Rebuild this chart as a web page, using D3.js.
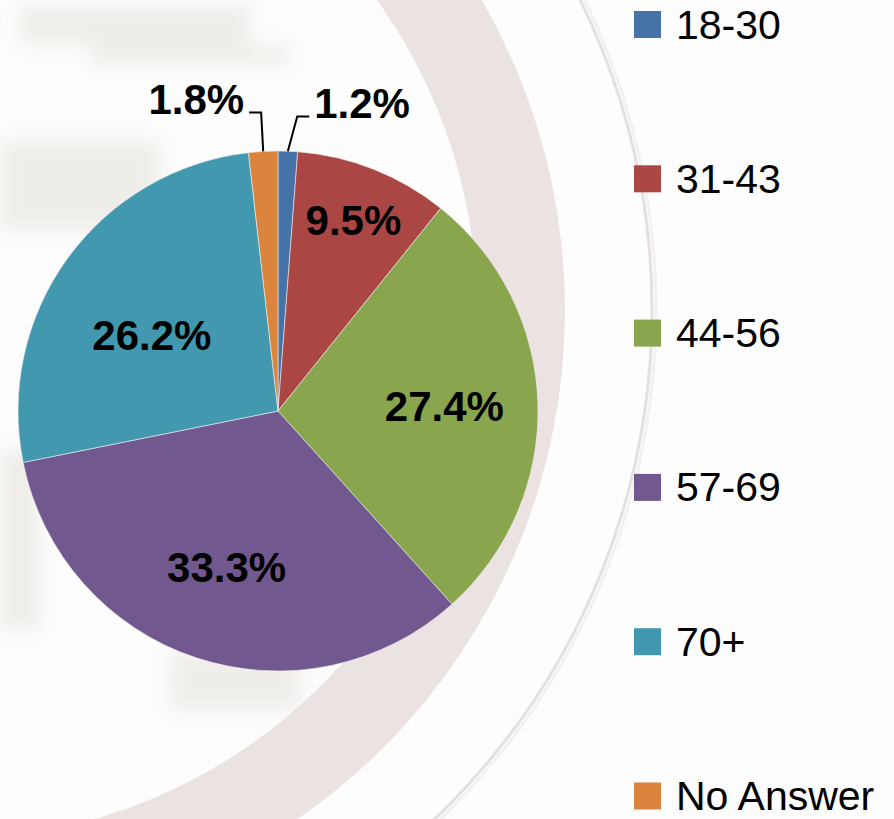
<!DOCTYPE html>
<html>
<head>
<meta charset="utf-8">
<script src="https://cdn.jsdelivr.net/npm/d3@7"></script>
<style>
  html, body { margin: 0; padding: 0; background: #fdfdfd; }
  svg { display: block; }
</style>
</head>
<body>
<svg id="chart" width="894" height="819"></svg>
<script>
// ---- data ----
const categories = ["18-30", "31-43", "44-56", "57-69", "70+", "No Answer"];
const values = [1.2, 9.5, 27.4, 33.3, 26.2, 1.8];
const labels = ["1.2%", "9.5%", "27.4%", "33.3%", "26.2%", "1.8%"];
const colors = ["#4572a7", "#aa4643", "#89a54e", "#71588f", "#4198af", "#db843d"];

// ---- layout ----
const W = 894, H = 819;
const cx = 278, cy = 411, R = 260;
const svg = d3.select("#chart");

// faint background watermark (decorative)
const defs = svg.append("defs");
defs.append("filter").attr("id", "blur")
  .attr("filterUnits", "userSpaceOnUse")
  .attr("x", -50).attr("y", -50).attr("width", 1000).attr("height", 950)
  .append("feGaussianBlur").attr("stdDeviation", 9);
const bg = svg.append("g");
bg.append("path")
  .attr("transform", "translate(-53,310)")
  .attr("d", d3.arc()({innerRadius: 530, outerRadius: 618, startAngle: 0, endAngle: Math.PI * 2}))
  .attr("fill", "#ebe2e2");
bg.append("circle")
  .attr("cx", -53).attr("cy", 310).attr("r", 705)
  .attr("fill", "none").attr("stroke", "#e2e0e0").attr("stroke-width", 3);
bg.append("circle")
  .attr("cx", -53).attr("cy", 310).attr("r", 709)
  .attr("fill", "none").attr("stroke", "#f4f0f0").attr("stroke-width", 3);
const blobs = bg.append("g").attr("filter", "url(#blur)").attr("fill", "#ebe8e3").attr("opacity", 0.75);
blobs.append("rect").attr("x", 20).attr("y", 5).attr("width", 230).attr("height", 40);
blobs.append("rect").attr("x", 90).attr("y", 45).attr("width", 200).attr("height", 20);
blobs.append("rect").attr("x", 0).attr("y", 140).attr("width", 160).attr("height", 90);
blobs.append("rect").attr("x", 0).attr("y", 450).attr("width", 40).attr("height", 180);
blobs.append("rect").attr("x", 170).attr("y", 650).attr("width", 130).attr("height", 60);

// ---- pie ----
const color = d3.scaleOrdinal().domain(categories).range(colors);
const pie = d3.pie().sort(null).value(d => d.value);
const data = categories.map((c, i) => ({cat: c, value: values[i], label: labels[i]}));
const arcs = pie(data);
const arc = d3.arc().innerRadius(0).outerRadius(R);

const g = svg.append("g").attr("transform", `translate(${cx},${cy})`);
g.selectAll("path.slice")
  .data(arcs)
  .join("path")
  .attr("class", "slice")
  .attr("d", arc)
  .attr("fill", d => color(d.data.cat))
  .attr("stroke", "#f4eeee")
  .attr("stroke-width", 0.6);

// label placement: inside for large slices, outside with leader for small
const labelFont = "'Liberation Sans', Arial, sans-serif";
const radiusFactor = {"31-43": 0.79, "44-56": 0.64, "57-69": 0.63, "70+": 0.6};
const yNudge = {"70+": 16};

arcs.forEach(d => {
  const frac = (d.endAngle - d.startAngle) / (2 * Math.PI);
  const mid = (d.startAngle + d.endAngle) / 2;
  if (frac > 0.05) {
    const r = R * radiusFactor[d.data.cat];
    const x = Math.sin(mid) * r;
    const y = -Math.cos(mid) * r + (yNudge[d.data.cat] || 0);
    g.append("text")
      .attr("x", x).attr("y", y + 15)
      .attr("text-anchor", "middle")
      .attr("font-family", labelFont)
      .attr("font-weight", "bold")
      .attr("font-size", 42)
      .attr("fill", "#000")
      .text(d.data.label);
  } else {
    const p0 = [Math.sin(mid) * R, -Math.cos(mid) * R];
    const side = Math.sin(mid) >= 0 ? 1 : -1;
    const pe = [Math.sin(mid) * R * 1.14 + (side > 0 ? 8 : 0), -R * 1.14 + (side > 0 ? 2 : -2)];
    const p2 = [pe[0] + side * 12, pe[1]];
    g.append("polyline")
      .attr("points", [p0, pe, p2].map(p => p.join(",")).join(" "))
      .attr("fill", "none").attr("stroke", "#000").attr("stroke-width", 2);
    g.append("text")
      .attr("x", p2[0] + side * 5).attr("y", pe[1] + 1)
      .attr("text-anchor", side > 0 ? "start" : "end")
      .attr("font-family", labelFont)
      .attr("font-weight", "bold")
      .attr("font-size", 42)
      .attr("fill", "#000")
      .text(d.data.label);
  }
});

// ---- legend ----
const legendY = d3.scalePoint().domain(categories).range([24.5, 796]);
const legend = svg.append("g");
const items = legend.selectAll("g.item").data(categories).join("g")
  .attr("class", "item")
  .attr("transform", c => `translate(634,${legendY(c)})`);
items.append("rect")
  .attr("x", 0).attr("y", -13.5).attr("width", 27).attr("height", 27)
  .attr("fill", c => color(c));
items.append("text")
  .attr("x", 42).attr("y", 14)
  .attr("font-family", labelFont)
  .attr("font-size", 41)
  .attr("fill", "#000")
  .text(c => c);
</script>
</body>
</html>
